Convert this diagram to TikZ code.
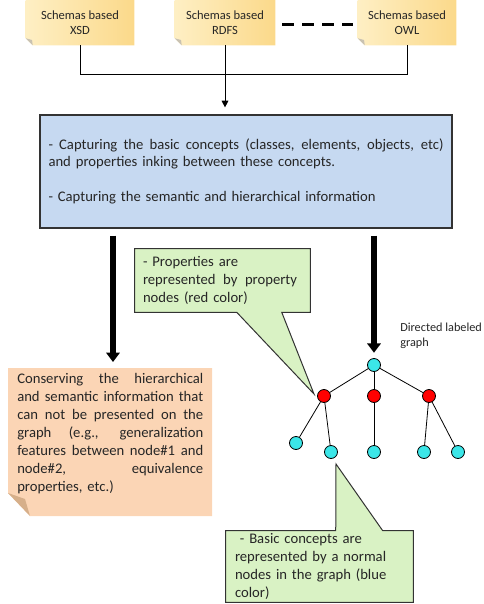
\documentclass[tikz,border=0pt]{standalone}
\usepackage{fontspec}
\setmainfont{Carlito}
\usetikzlibrary{arrows.meta,calc,backgrounds}
\definecolor{bluefill}{HTML}{C6D9F1}
\definecolor{orangefill}{HTML}{FBD5B5}
\definecolor{foldtan}{HTML}{D6AF8A}
\definecolor{greenfill}{HTML}{D9F2C4}
\definecolor{cyannode}{HTML}{3BE6E8}
\definecolor{stickyA}{HTML}{FEEFC4}
\definecolor{stickyB}{HTML}{FBD98A}
\definecolor{stickyfold}{HTML}{C9C2B2}
\definecolor{edgecol}{HTML}{333333}
\definecolor{txtcol}{HTML}{262626}
\newcommand\mysticky[2]{%
  \shade[left color=stickyA, right color=stickyB]
    (#1.north west) -- (#1.north east) -- (#1.south east)
    -- ($(#1.south west)+(#2,0)$) -- ($(#1.south west)+(0,-#2)$) -- cycle;
  \fill[stickyfold] ($(#1.south west)+(0,-#2)$) -- ($(#1.south west)+(#2,0)$)
    -- ($(#1.south west)+(0.9*#2,-0.75*#2)$) -- cycle;
}
\newcommand\jline[2]{\leavevmode\hbox to #1{\spaceskip=\fontdimen2\font plus 1fil\relax #2}}
\begin{document}
\begin{tikzpicture}[x=0.75pt,y=-0.75pt,
  schema/.style={align=center, font=\fontsize{9.4}{11.25}\selectfont, text=txtcol, inner sep=0,
    minimum height=33.75pt},
  body/.style={font=\fontsize{11}{13.5}\selectfont, text=txtcol, inner sep=0, align=left},
  gnode/.style={circle, draw=black, line width=0.6pt, minimum size=9.75pt, inner sep=0},
  prop/.style={gnode, fill=red},
  concept/.style={gnode, fill=cyannode},
  gedge/.style={line width=0.6pt, draw=black},
  bigarrow/.style={line width=4.5pt, -{Triangle[width=10pt,length=7pt]}},
  thinline/.style={line width=0.75pt, draw=black},
  callout/.style={fill=greenfill, draw=edgecol, line width=0.75pt},
]
\useasboundingbox (0,0) rectangle (483,604);

% source schemas
\node[schema, minimum width=81pt] (xsd) at (80,22.5) {Schemas based\\XSD};
\node[schema, minimum width=75pt] (rdfs) at (225,22.5) {Schemas based\\RDFS};
\node[schema, minimum width=73.5pt] (owl) at (407,22.5) {Schemas based\\OWL};

% capture box
\node[body, draw=edgecol, fill=bluefill, line width=0.9pt, minimum width=309pt,
  minimum height=84.75pt, text width=296.25pt, font=\fontsize{11}{13}\selectfont]
  (capture) at (246,171.5)
  {\jline{296.25pt}{- Capturing the basic concepts (classes, elements, objects, etc)}\\
   and properties inking between these concepts.\\[13.5pt]
   - Capturing the semantic and hierarchical information};

% conserving box text
\node[body, text width=139.5pt, anchor=north west] (cons) at (17,373)
  {\jline{139.5pt}{Conserving the hierarchical}\\
   \jline{139.5pt}{and semantic information that}\\
   \jline{139.5pt}{can not be presented on the}\\
   \jline{139.5pt}{graph (e.g., generalization}\\
   \jline{139.5pt}{features between node\#1 and}\\
   \jline{139.5pt}{node\#2, equivalence}\\
   properties, etc.)};
\coordinate (constop) at (113,368);

% graph
\node[concept] (root) at (374,365) {};
\node[prop] (p1) at (324,396) {};
\node[prop] (p2) at (374,396) {};
\node[prop] (p3) at (429,396) {};
\node[concept] (c1) at (296,443) {};
\node[concept] (c2) at (331,452) {};
\node[concept] (c3) at (374,452) {};
\node[concept] (c4) at (424,452) {};
\node[concept] (c5) at (458,452) {};

\node[font=\fontsize{9.2}{11.25}\selectfont, text=txtcol, align=left, anchor=west, inner sep=0]
  (dlg) at (400,335.5) {Directed labeled\\graph};

% callouts
\node[body, text width=119.25pt, inner xsep=6pt, inner ysep=0pt, minimum height=47.25pt]
  (propnote) at (222.5,280.5)
  {- Properties are\\\jline{115.5pt}{represented by property}\\nodes (red color)};
\coordinate (pt1) at (314,394);

\node[body, text width=126.75pt, inner xsep=6.75pt, inner ysep=0pt, minimum height=53.25pt]
  (basicnote) at (319.5,566.5)
  {\ - Basic concepts are\\represented by a normal\\nodes in the graph (blue\\color)};
\coordinate (pt2) at (336,464);

\begin{scope}[on background layer]
  \mysticky{xsd}{7}
  \mysticky{rdfs}{7}
  \mysticky{owl}{7}
  % conserving note
  \fill[orangefill] (8,368) -- (212,368) -- (212,516) -- (30,516) -- (8,493) -- cycle;
  \fill[foldtan] (8,493) -- (30,516) -- (25,499) -- cycle;
  % callout shapes
  \filldraw[callout] (propnote.north west) -- (propnote.north east) -- (propnote.south east)
    -- ($(propnote.south west)+(147,0)$) -- (pt1) -- ($(propnote.south west)+(102,0)$)
    -- (propnote.south west) -- cycle;
  \filldraw[callout] (basicnote.north west) -- ($(basicnote.north west)+(110,0)$) -- (pt2)
    -- ($(basicnote.north west)+(157,0)$) -- (basicnote.north east)
    -- (basicnote.south east) -- (basicnote.south west) -- cycle;
  % graph edges
  \draw[gedge] (root) -- (p1);
  \draw[gedge] (root) -- (p2);
  \draw[gedge] (root) -- (p3);
  \draw[gedge] (p1) -- (c1);
  \draw[gedge] (p1) -- (c2);
  \draw[gedge] (p2) -- (c3);
  \draw[gedge] (p3) -- (c4);
  \draw[gedge] (p3) -- (c5);
\end{scope}

% connectors
\draw[thinline] (xsd.south) -- ++(0,29) -| (owl.south);
\draw[thinline, -{Triangle[width=5pt,length=5pt]}, shorten >=5.25pt]
  (rdfs.south) -- (rdfs.south |- capture.north);
\draw[line width=2.25pt, dash pattern=on 9pt off 6pt]
  ($(rdfs.east)+(7,1.5)$) -- ($(owl.west)+(-5,1.5)$);
\draw[bigarrow, shorten <=5.25pt, shorten >=4.5pt] (capture.south -| constop) -- (constop);
\draw[bigarrow, shorten <=5.25pt, shorten >=4pt] (capture.south -| root) -- (root.north);
\end{tikzpicture}
\end{document}
